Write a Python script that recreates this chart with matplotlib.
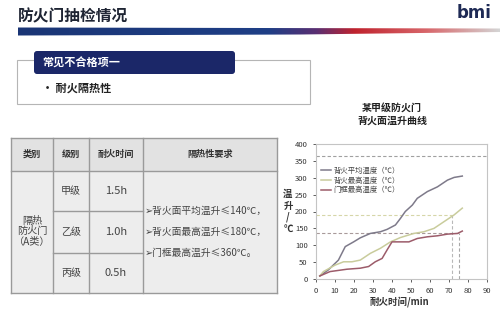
import matplotlib
matplotlib.use("Agg")
import matplotlib.pyplot as plt
import numpy as np
from matplotlib.patches import Rectangle, FancyBboxPatch, Polygon
from matplotlib.colors import LinearSegmentedColormap

plt.rcParams['font.family'] = ['Noto Sans CJK SC', 'DejaVu Sans']

# ---------------- data ----------------
page_title = "防火门抽检情况"
logo_text = "bmi"
section_title = "常见不合格项一"
bullet_text = "• 耐火隔热性"

table_header = ["类别", "级别", "耐火时间", "隔热性要求"]
table_category = "隔热\n防火门\n（A类）"
table_grades = ["甲级", "乙级", "丙级"]
table_times = ["1.5h", "1.0h", "0.5h"]
table_requirements = ["➢背火面平均温升≤140℃，", "➢背火面最高温升≤180℃，", "➢门框最高温升≤360℃。"]

chart_title = "某甲级防火门\n背火面温升曲线"
x_label = "耐火时间/min"
y_label_chars = ["温", "升", "/", "℃"]
x_ticks = [0, 10, 20, 30, 40, 50, 60, 70, 80, 90]
y_ticks = [0, 50, 100, 150, 200, 250, 300, 350, 400]

series_names = ["背火平均温度（℃）", "背火最高温度（℃）", "门框最高温度（℃）"]
avg_x = [2, 6.5, 11.8, 15.4, 19.8, 23.3, 28.6, 33.9, 37.4, 41.8, 44.5, 47, 50.7, 53.3, 58.6, 63.9, 69.2, 72.7, 77]
avg_y = [9, 27, 56, 96, 110, 122, 135, 140, 147, 160, 180, 200, 219, 239, 259, 273, 293, 301, 305]
max_x = [2, 3.9, 10, 14.5, 18.9, 23.3, 28.6, 33.9, 39.2, 44.5, 51.5, 56.8, 62.1, 67.4, 72.7, 77]
max_y = [9, 22, 41, 51, 51, 56, 76, 91, 110, 123, 135, 140, 150, 170, 190, 210]
frame_x = [2, 7.4, 16.3, 23.3, 27.7, 31.2, 34.8, 37.4, 40, 45.4, 48.9, 53.3, 58.6, 63.9, 69.2, 74.5, 77]
frame_y = [9, 22, 29, 32, 37, 51, 61, 86, 110, 110, 110, 120, 125, 128, 133, 135, 142]

ref_top_y = 365
ref_mid_y = 190
ref_mid_x = 71.5
ref_low_y = 137
ref_low_x = 75.4

# ---------------- figure ----------------
fig = plt.figure(figsize=(5, 3.19), dpi=100)
fig.patch.set_facecolor("white")
bg = fig.add_axes([0, 0, 1, 1])
bg.set_xlim(0, 500)
bg.set_ylim(319, 0)
bg.axis("off")

# page title and logo
bg.text(18, 16, page_title, fontsize=11.3, fontweight="bold", color="#1e2433", va="center", ha="left")
bg.text(491, 13, logo_text, fontsize=12, fontweight="bold", color="#1e2a55", va="center", ha="right",
        family="DejaVu Sans")

# gradient bar
cmap = LinearSegmentedColormap.from_list("bar", [
    (0.0, "#1a3575"), (0.52, "#1f3f86"), (0.62, "#5a2f72"), (0.70, "#c0232e"),
    (0.85, "#d8676b"), (1.0, "#d4d4d4")])
grad = np.linspace(0, 1, 256).reshape(1, -1)
im = bg.imshow(grad, extent=[18, 500, 36, 27], cmap=cmap, aspect="auto", zorder=2)
poly = Polygon([(18, 27.5), (500, 28.5), (500, 32), (300, 34.5), (18, 35.5)], closed=True,
               transform=bg.transData, facecolor="none", edgecolor="none")
bg.add_patch(poly)
im.set_clip_path(poly)
bg.set_xlim(0, 500)
bg.set_ylim(319, 0)

# section box
bg.add_patch(Rectangle((17, 60), 293, 44, facecolor="white", edgecolor="#b5b5b5", lw=0.8, zorder=2))
bg.add_patch(FancyBboxPatch((34, 51), 201, 23, boxstyle="round,pad=0,rounding_size=3",
                            facecolor="#1b2768", edgecolor="none", zorder=3))
bg.text(42, 63, section_title, fontsize=8, fontweight="bold", color="white", va="center", ha="left", zorder=4)
bg.text(42, 88, bullet_text, fontsize=8, fontweight="bold", color="#222222", va="center", ha="left", zorder=4)

# table
cols = [11, 53, 89, 143, 277]
rows = [138, 171, 211, 253, 293]
line_c = "#9a9a9a"
bg.add_patch(Rectangle((cols[0], rows[0]), cols[-1] - cols[0], rows[1] - rows[0],
                       facecolor="#e2e2e2", edgecolor="none", zorder=2))
bg.add_patch(Rectangle((cols[0], rows[1]), cols[-1] - cols[0], rows[-1] - rows[1],
                       facecolor="#ededed", edgecolor="none", zorder=2))
for xc in cols:
    bg.plot([xc, xc], [rows[0], rows[-1]], color=line_c, lw=1.0, zorder=3)
for yr in [rows[0], rows[1], rows[-1]]:
    bg.plot([cols[0], cols[-1]], [yr, yr], color=line_c, lw=1.0, zorder=3)
for yr in rows[2:4]:
    bg.plot([cols[1], cols[3]], [yr, yr], color=line_c, lw=1.0, zorder=3)

hy = (rows[0] + rows[1]) / 2
for i, h in enumerate(table_header):
    bg.text((cols[i] + cols[i + 1]) / 2, hy, h, fontsize=6.6, fontweight="bold", color="#333333",
            ha="center", va="center", zorder=4)
bg.text((cols[0] + cols[1]) / 2, 231, table_category, fontsize=7.3, color="#444444",
        ha="center", va="center", linespacing=1.0, zorder=4)
for i in range(3):
    yc = (rows[i + 1] + rows[i + 2]) / 2
    bg.text((cols[1] + cols[2]) / 2, yc, table_grades[i], fontsize=7.2, color="#444444",
            ha="center", va="center", zorder=4)
    bg.text((cols[2] + cols[3]) / 2, yc, table_times[i], fontsize=8, color="#444444",
            ha="center", va="center", zorder=4)
for i, t in enumerate(table_requirements):
    bg.text(145, 211 + i * 21, t, fontsize=7, color="#444444", ha="left", va="center", zorder=4)

# chart title and labels
bg.text(392, 114, chart_title, fontsize=7.2, fontweight="bold", color="#222222",
        ha="center", va="center", linespacing=1.3)
bg.text(400, 302, x_label, fontsize=6.8, fontweight="bold", color="#333333", ha="center", va="center")
for i, ch in enumerate(y_label_chars):
    bg.text(288, 194 + i * 11.5, ch, fontsize=6.8, fontweight="bold", color="#333333",
            ha="center", va="center")

# chart
ax = fig.add_axes([316 / 500, 40 / 319, 171 / 500, 135 / 319])
ax.set_xlim(0, 90)
ax.set_ylim(0, 400)
ax.set_xticks(x_ticks)
ax.set_yticks(y_ticks)
ax.tick_params(labelsize=5.5, colors="#444444", length=2, width=0.6, pad=4)
for tl in ax.get_xticklabels() + ax.get_yticklabels():
    tl.set_color("#333333")
for sp in ax.spines.values():
    sp.set_color("#c4c4c4")
    sp.set_linewidth(0.8)

dash = (0, (3, 2))
ax.axhline(ref_top_y, color="#a0a0a0", lw=0.8, linestyle=dash)
ax.plot([0, ref_mid_x], [ref_mid_y, ref_mid_y], color="#d6d6a8", lw=0.8, linestyle=dash)
ax.plot([ref_mid_x, ref_mid_x], [0, ref_mid_y], color="#b8b8b8", lw=0.8, linestyle=dash)
ax.plot([0, ref_low_x], [ref_low_y, ref_low_y], color="#a89a9a", lw=0.8, linestyle=dash)
ax.plot([ref_low_x, ref_low_x], [0, ref_low_y], color="#a8a8a8", lw=0.8, linestyle=dash)

ax.plot(avg_x, avg_y, color="#7e7a8a", lw=1.1, label=series_names[0])
ax.plot(max_x, max_y, color="#c9cc9c", lw=1.1, label=series_names[1])
ax.plot(frame_x, frame_y, color="#9c5c6a", lw=1.1, label=series_names[2])

ax.legend(loc="upper left", bbox_to_anchor=(0.0, 0.87), frameon=False, fontsize=5.3,
          handlelength=1.3, handletextpad=0.4, labelspacing=0.25, borderpad=0.2,
          labelcolor="#444444")

fig.savefig("out.png", dpi=100)
